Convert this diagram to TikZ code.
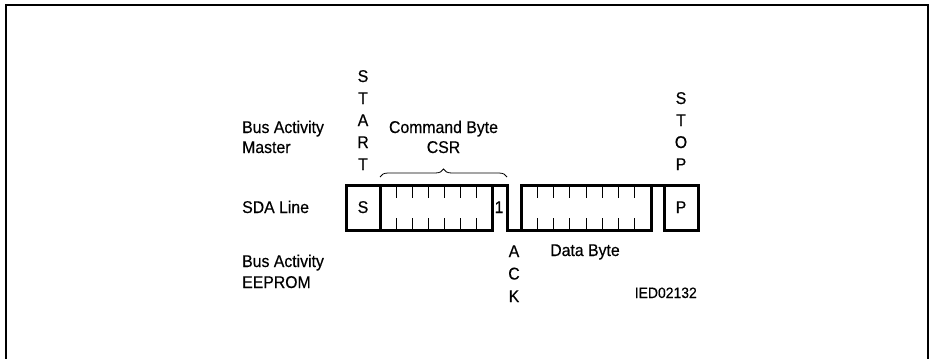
\documentclass[tikz,border=0pt]{standalone}
\usepackage{fontspec}
\setmainfont{Liberation Sans}[FakeStretch=0.93,FakeBold=0.4]
\usetikzlibrary{decorations.pathreplacing}
\begin{document}
\begin{tikzpicture}[x=1pt,y=-1pt,
  sig/.style={line width=3pt,line cap=rect},
  tck/.style={line width=1pt},
  lbl/.style={inner sep=0pt,font=\fontsize{17}{17}\selectfont},
  ltr/.style={lbl,anchor=base}]
\useasboundingbox(0,0)rectangle(930,359);
\draw[line width=2pt](6,362)--(6,4.5)--(928,4.5)--(928,362);
% SDA line
\draw[sig](492,230)--(346.5,230)--(346.5,185)--(507,185)--(507,230)--(521,230)--(521,185)
  --(698,185)--(698,230)--(664,230)--(664,185);
\draw[sig](492,185)--(492,230);
\draw[sig](380,185)--(380,230);
\draw[sig](521,230)--(651,230)--(651,185);
\foreach \x in {396,412,...,476}{
  \draw[tck](\x,186.5)--(\x,198);
  \draw[tck](\x,218)--(\x,228.5);}
\foreach \i in {1,...,7}{
  \draw[tck]({521+16.25*\i},186.5)--({521+16.25*\i},198);
  \draw[tck]({521+16.25*\i},218)--({521+16.25*\i},228.5);}
\draw[line width=0.8pt,decorate,decoration={brace,amplitude=8pt}](380,177)--(507,177);
% labels
\node[lbl,anchor=base west](bam) at (242,133){Bus Activity};
\node[lbl,anchor=base west](mst) at (242,153){Master};
\node[lbl,anchor=base west](sda) at (242,213){SDA Line};
\node[lbl,anchor=base west](bae) at (242,267){Bus Activity};
\node[lbl,anchor=base west](eep) at (242,288){EEPROM};
\node[ltr](cmd) at (443.5,133){Command Byte};
\node[ltr](csr) at (443.5,153){CSR};
\node[ltr](dat) at (585,256){Data Byte};
\node[ltr](sbit) at (363,213){S};
\node[ltr](pbit) at (681,213){P};
\node[ltr](one) at (499,213){1};
\foreach \c [count=\i] in {S,T,A,R,T}{\node[ltr](start\i) at (363,60+22*\i){\c};}
\foreach \c [count=\i] in {S,T,O,P}{\node[ltr](stop\i) at (681,82+22*\i){\c};}
\foreach \c [count=\i] in {A,C,K}{\node[ltr](ack\i) at (514,234.5+22.5*\i){\c};}
\node[inner sep=0pt,anchor=base east,font=\fontsize{15}{15}\selectfont](ied) at (697,298){IED02132};
\end{tikzpicture}
\end{document}
